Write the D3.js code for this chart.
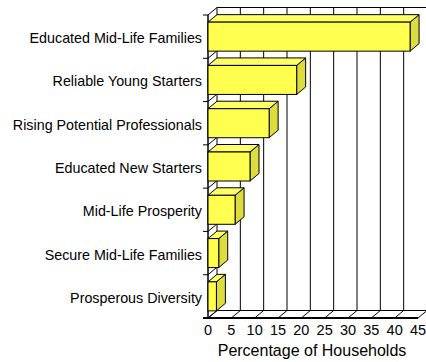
<!DOCTYPE html>
<html><head><meta charset="utf-8">
<script src="https://cdn.jsdelivr.net/npm/d3@7"></script>
<style>body{margin:0;background:#fff}svg{display:block}</style>
</head><body>
<script>
const categories = ["Educated Mid-Life Families","Reliable Young Starters","Rising Potential Professionals","Educated New Starters","Mid-Life Prosperity","Secure Mid-Life Families","Prosperous Diversity"];
const values = [43.3, 19.0, 13.1, 9.0, 5.8, 2.3, 1.8];
const tickValues = [0,5,10,15,20,25,30,35,40,45];
const axisTitle = "Percentage of Households";

const W = 426, H = 362;
const DX = 9, DY = -7.5;
const svg = d3.select("body").append("svg").attr("width", W).attr("height", H);
const x = d3.scaleLinear().domain([0,45]).range([208,418]);
const y = d3.scaleBand().domain(categories).range([15,318]).paddingInner(0.33).paddingOuter(0.165);
const top0 = 15, bot0 = 318;
const font = "Liberation Sans, Arial, sans-serif";

const g = svg.append("g");
g.selectAll("line.grid").data(tickValues).join("line")
  .attr("x1", d => x(d)+DX).attr("x2", d => x(d)+DX)
  .attr("y1", top0+DY).attr("y2", bot0+DY)
  .attr("stroke","#000").attr("stroke-width",1);
g.append("line").attr("x1", x(0)+DX).attr("x2", x(45)+DX).attr("y1", top0+DY).attr("y2", top0+DY).attr("stroke","#000");
g.append("line").attr("x1", x(0)+DX).attr("x2", x(45)+DX).attr("y1", bot0+DY).attr("y2", bot0+DY).attr("stroke","#000");
g.selectAll("line.fd").data(tickValues).join("line")
  .attr("x1", d => x(d)).attr("x2", d => x(d)+DX)
  .attr("y1", bot0).attr("y2", bot0+DY)
  .attr("stroke","#000");
const step = (bot0-top0)/categories.length;
const bounds = d3.range(categories.length+1).map(i => top0 + i*step);
g.selectAll("line.ld").data(bounds).join("line")
  .attr("x1", x(0)).attr("x2", x(0)+DX)
  .attr("y1", d => d).attr("y2", d => d+DY)
  .attr("stroke","#000");
g.selectAll("line.lt").data(bounds).join("line")
  .attr("x1", x(0)-5).attr("x2", x(0))
  .attr("y1", d => d).attr("y2", d => d)
  .attr("stroke","#000");
g.append("line").attr("x1", x(0)).attr("x2", x(0)).attr("y1", top0).attr("y2", bot0+1).attr("stroke","#000").attr("stroke-width",1.5);
g.append("line").attr("x1", x(0)-5).attr("x2", x(45)).attr("y1", bot0).attr("y2", bot0).attr("stroke","#000").attr("stroke-width",2);

const bars = g.selectAll("g.bar").data(categories.map((c,i)=>({c, v: values[i]}))).join("g");
bars.each(function(d){
  const s = d3.select(this);
  const x0 = x(0), x1 = x(d.v), y0 = y(d.c), y1 = y(d.c)+y.bandwidth();
  s.append("path").attr("d", `M${x1},${y0}L${x1+DX},${y0+DY}L${x1+DX},${y1+DY}L${x1},${y1}Z`)
    .attr("fill","#dcdc3c").attr("stroke","#000").attr("stroke-width",1).attr("stroke-linejoin","round");
  s.append("path").attr("d", `M${x0},${y0}L${x0+DX},${y0+DY}L${x1+DX},${y0+DY}L${x1},${y0}Z`)
    .attr("fill","#ffff66").attr("stroke","#000").attr("stroke-width",1).attr("stroke-linejoin","round");
  s.append("rect").attr("x", x0).attr("y", y0).attr("width", x1-x0).attr("height", y1-y0)
    .attr("fill","#ffff50").attr("stroke","#000").attr("stroke-width",1);
});

g.selectAll("text.cat").data(categories).join("text")
  .attr("x", 202).attr("y", d => y(d)+y.bandwidth()/2+1.5)
  .attr("text-anchor","end").attr("dominant-baseline","central")
  .attr("font-family", font).attr("font-size", 14.3).attr("fill","#000")
  .text(d => d);
g.selectAll("text.tick").data(tickValues).join("text")
  .attr("x", d => x(d)).attr("y", 330)
  .attr("text-anchor","middle").attr("dominant-baseline","central")
  .attr("font-family", font).attr("font-size", 14.5).attr("fill","#000")
  .text(d => d);
g.append("text").attr("x", 312).attr("y", 350)
  .attr("text-anchor","middle").attr("dominant-baseline","central")
  .attr("font-family", font).attr("font-size", 16).attr("fill","#000")
  .text(axisTitle);
</script>
</body></html>
